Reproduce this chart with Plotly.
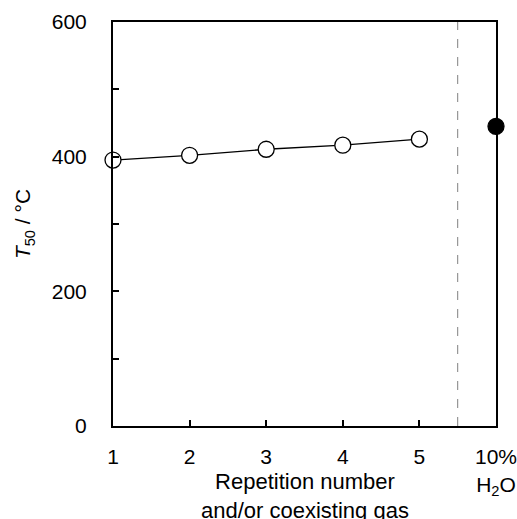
import plotly.graph_objects as go

# Data
repetition = [1, 2, 3, 4, 5]
t50_repetition = [395, 402, 411, 417, 426]
h2o_position = [6]
t50_h2o = [445]
separator_x = 5.5

x_tickvals = [1, 2, 3, 4, 5, 6]
x_ticktext = ["1", "2", "3", "4", "5", "10%<br>H<sub>2</sub>O"]
y_tickvals = [0, 200, 400, 600]
y_ticktext = ["0", "200", "400", "600"]
y_minor_tickvals = [100, 300, 500]
x_title = "Repetition number<br>and/or coexisting gas"
y_title = "<i>T</i><sub>50</sub> / °C"

FONT = "Liberation Sans, Arial, sans-serif"
TICK = dict(family=FONT, size=21, color="black")
XTITLE = dict(family=FONT, size=22, color="black")
YTITLE = dict(family=FONT, size=21, color="black")

fig = go.Figure()
fig.add_trace(go.Scatter(
    x=repetition, y=t50_repetition, mode="lines+markers",
    line=dict(color="black", width=1.3),
    marker=dict(size=16, color="white", line=dict(color="black", width=1.3)),
    cliponaxis=False, showlegend=False,
))
fig.add_trace(go.Scatter(
    x=h2o_position, y=t50_h2o, mode="markers",
    marker=dict(size=16, color="black", line=dict(color="black", width=1.3)),
    cliponaxis=False, showlegend=False,
))
fig.add_vline(x=separator_x, line=dict(color="#808080", width=1, dash="dash"))

# x-axis title as a paper-anchored annotation centred under the plot area
fig.add_annotation(
    text=x_title, xref="paper", yref="paper", x=0.5, y=0,
    xanchor="center", yanchor="top", yshift=-41, showarrow=False,
    font=XTITLE, align="center",
)

fig.update_layout(
    width=517, height=519, autosize=False,
    margin=dict(l=113, r=21, t=22, b=93, autoexpand=False),
    paper_bgcolor="white", plot_bgcolor="white",
    font=TICK,
    xaxis=dict(
        range=[1, 6], tickvals=x_tickvals, ticktext=x_ticktext,
        tickfont=TICK, automargin=False, ticklabeloverflow="allow",
        showline=True, linecolor="black", linewidth=2, mirror=True,
        ticks="inside", ticklen=6, tickwidth=2, tickcolor="black",
        showgrid=False, zeroline=False, ticklabelstandoff=11,
    ),
    yaxis=dict(
        range=[0, 600], tickvals=y_tickvals, ticktext=y_ticktext,
        tickfont=TICK, automargin=False,
        showline=True, linecolor="black", linewidth=2, mirror=True,
        ticks="inside", ticklen=6, tickwidth=2, tickcolor="black",
        minor=dict(ticks="inside", ticklen=6, tickwidth=2, tickcolor="black",
                   tickvals=y_minor_tickvals),
        showgrid=False, zeroline=False, ticklabelstandoff=20,
        title=dict(text=y_title, font=YTITLE, standoff=15),
    ),
)

# remove the default page margin so the figure fills the window exactly
fig.write_html(
    "out.html",
    config={"displayModeBar": False},
    post_script="document.body.style.margin='0';document.body.style.overflow='hidden';",
)
